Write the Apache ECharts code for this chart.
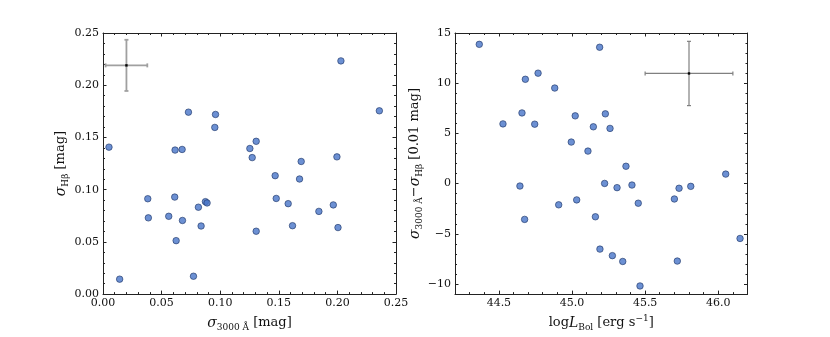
<!DOCTYPE html>
<html>
<head>
<meta charset="utf-8">
<script src="https://cdn.jsdelivr.net/npm/echarts@6/dist/echarts.min.js"></script>
<style>
  html, body { margin: 0; padding: 0; background: #fff; }
  #chart { width: 830px; height: 337px; }
</style>
</head>
<body>
<div id="chart"></div>
<script>
// left panel: sigma_3000 vs sigma_Hbeta (mag)
const sig3000 = [0.0051, 0.0142, 0.0382, 0.0387, 0.0561, 0.0612, 0.0615, 0.0624, 0.0675, 0.0678,
  0.0729, 0.0772, 0.0814, 0.0837, 0.0874, 0.0888, 0.0954, 0.0960, 0.1253, 0.1273,
  0.1307, 0.1307, 0.1469, 0.1478, 0.1580, 0.1617, 0.1677, 0.1691, 0.1842, 0.1965,
  0.1996, 0.2005, 0.2030, 0.2358];
const sigHb = [0.1407, 0.0143, 0.0913, 0.0730, 0.0745, 0.0929, 0.1379, 0.0512, 0.1385, 0.0705,
  0.1742, 0.0171, 0.0832, 0.0652, 0.0885, 0.0873, 0.1596, 0.1720, 0.1394, 0.1307,
  0.1463, 0.0602, 0.1134, 0.0916, 0.0866, 0.0655, 0.1102, 0.1270, 0.0792, 0.0854,
  0.1314, 0.0637, 0.2233, 0.1755];

// right panel: log L_Bol vs sigma difference (0.01 mag)
const logLbol = [44.366, 44.528, 44.644, 44.658, 44.676, 44.681, 44.745, 44.768, 44.882, 44.909,
  44.995, 45.022, 45.032, 45.109, 45.146, 45.160, 45.189, 45.191, 45.223, 45.228,
  45.260, 45.276, 45.308, 45.347, 45.369, 45.410, 45.453, 45.465, 45.700, 45.720,
  45.732, 45.812, 46.051, 46.149];
const sigDiff = [13.87, 5.95, -0.24, 7.04, -3.56, 10.39, 5.92, 11.0, 9.52, -2.11,
  4.14, 6.75, -1.62, 3.24, 5.66, -3.30, 13.58, -6.52, 0.02, 6.95,
  5.50, -7.17, -0.40, -7.75, 1.73, -0.14, -1.95, -10.19, -1.53, -7.71,
  -0.46, -0.27, 0.95, -5.46];

// typical error: [x, y, xerr, yerr]
const errLeft = [0.020, 0.219, 0.0178, 0.0245];
const errRight = [45.80, 10.97, 0.30, 3.2];

// tick labels
const leftTicks = [0, 0.05, 0.1, 0.15, 0.2, 0.25];
const rightXTicks = [44.5, 45.0, 45.5, 46.0];
const rightYTicks = [-10, -5, 0, 5, 10, 15];

const FONT = 'DejaVu Serif';
const INK = '#222';

const chart = echarts.init(document.getElementById('chart'), null, { renderer: 'canvas' });

const nameStyle = {
  fontFamily: FONT,
  fontSize: 13,
  color: '#111',
  lineHeight: 18,
  rich: {
    i: { fontFamily: FONT, fontStyle: 'italic', fontSize: 14, color: '#111', lineHeight: 18 },
    sub: { fontFamily: FONT, fontSize: 9, color: '#111', verticalAlign: 'bottom', lineHeight: 18 },
    sup: { fontFamily: FONT, fontSize: 9, color: '#111', verticalAlign: 'top', lineHeight: 14 }
  }
};

const fmtMinus = v => (v < 0 ? '\u2212' + Math.abs(v) : String(v));

// axis with regular ticks + minor ticks (left panel)
function plainAxis(pos, grid, min, max, step, labels, extra) {
  return Object.assign({
    type: 'value', gridIndex: grid, position: pos, min: min, max: max, interval: step,
    axisLine: { show: true, onZero: false, lineStyle: { color: INK, width: 1 } },
    axisTick: { show: true, inside: true, length: 3.5, lineStyle: { color: INK } },
    minorTick: { show: true, splitNumber: 5, length: 2, lineStyle: { color: INK } },
    splitLine: { show: false },
    minorSplitLine: { show: false },
    axisLabel: {
      show: labels, margin: 4, fontFamily: FONT, fontSize: 11, color: '#111',
      formatter: v => v.toFixed(2)
    }
  }, extra || {});
}

// axis whose min is not a multiple of the label step: major ticks via customValues
function majorAxis(pos, grid, min, max, step, ticks, labels, fmt, extra) {
  return Object.assign({
    type: 'value', gridIndex: grid, position: pos, min: min, max: max, interval: step,
    axisLine: { show: true, onZero: false, lineStyle: { color: INK, width: 1 } },
    axisTick: { show: true, inside: true, length: 3.5, customValues: ticks, lineStyle: { color: INK } },
    splitLine: { show: false },
    axisLabel: {
      show: labels, margin: 4, fontFamily: FONT, fontSize: 11, color: '#111',
      customValues: ticks, formatter: fmt
    }
  }, extra || {});
}
function minorAxis(pos, grid, min, max, step) {
  return {
    type: 'value', gridIndex: grid, position: pos, min: min, max: max, interval: step,
    axisLine: { show: false, onZero: false },
    axisTick: { show: true, inside: true, length: 2, lineStyle: { color: INK } },
    splitLine: { show: false },
    axisLabel: { show: false }
  };
}

function errorBarRenderer(color, width, cap) {
  return function (params, api) {
    const x = api.value(0), y = api.value(1), dx = api.value(2), dy = api.value(3);
    const c = api.coord([x, y]);
    const l = api.coord([x - dx, y]), r = api.coord([x + dx, y]);
    const t = api.coord([x, y + dy]), b = api.coord([x, y - dy]);
    const st = { stroke: color, lineWidth: width };
    const seg = (x1, y1, x2, y2) => ({ type: 'line', shape: { x1, y1, x2, y2 }, style: st });
    return {
      type: 'group',
      children: [
        seg(l[0], l[1], r[0], r[1]),
        seg(t[0], t[1], b[0], b[1]),
        seg(l[0], l[1] - cap, l[0], l[1] + cap),
        seg(r[0], r[1] - cap, r[0], r[1] + cap),
        seg(t[0] - cap, t[1], t[0] + cap, t[1]),
        seg(b[0] - cap, b[1], b[0] + cap, b[1]),
        { type: 'rect', shape: { x: c[0] - 1.2, y: c[1] - 1.2, width: 2.4, height: 2.4 }, style: { fill: '#000' } }
      ]
    };
  };
}

const pointStyle = { color: '#4774c8', borderColor: '#1e3566', borderWidth: 0.8 };

const option = {
  backgroundColor: '#fff',
  animation: false,
  grid: [
    { left: 103, top: 33, width: 293, height: 269 },
    { left: 455, top: 33, width: 292.5, height: 269 }
  ],
  xAxis: [
    plainAxis('bottom', 0, 0, 0.25, 0.05, true, {
      name: '{i|σ}{sub|3000 Å} [mag]', nameLocation: 'middle', nameGap: 17, nameTextStyle: nameStyle
    }),
    plainAxis('top', 0, 0, 0.25, 0.05, false),
    majorAxis('bottom', 1, 44.2, 46.2, 0.1, rightXTicks, true, v => v.toFixed(1), {
      name: 'log{i|L}{sub|Bol} [erg s{sup|\u22121}]', nameLocation: 'middle', nameGap: 17, nameTextStyle: nameStyle
    }),
    minorAxis('bottom', 1, 44.2, 46.2, 0.1),
    majorAxis('top', 1, 44.2, 46.2, 0.1, rightXTicks, false, v => v),
    minorAxis('top', 1, 44.2, 46.2, 0.1)
  ],
  yAxis: [
    plainAxis('left', 0, 0, 0.25, 0.05, true, {
      name: '{i|σ}{sub|Hβ} [mag]', nameLocation: 'middle', nameGap: 33, nameRotate: 90, nameTextStyle: nameStyle
    }),
    plainAxis('right', 0, 0, 0.25, 0.05, false),
    majorAxis('left', 1, -11, 15, 1, rightYTicks, true, fmtMinus, {
      name: '{i|σ}{sub|3000 Å}\u2212{i|σ}{sub|Hβ} [0.01 mag]', nameLocation: 'middle', nameGap: 21, nameRotate: 90, nameTextStyle: nameStyle
    }),
    minorAxis('left', 1, -11, 15, 1),
    majorAxis('right', 1, -11, 15, 1, rightYTicks, false, v => v),
    minorAxis('right', 1, -11, 15, 1)
  ],
  series: [
    {
      type: 'custom', xAxisIndex: 0, yAxisIndex: 0, z: 3,
      renderItem: errorBarRenderer('#a0a0a0', 1.8, 2),
      encode: { x: 0, y: 1 },
      data: [errLeft]
    },
    {
      type: 'scatter', xAxisIndex: 0, yAxisIndex: 0, z: 4,
      symbolSize: 6.5, itemStyle: pointStyle,
      data: sig3000.map((x, i) => [x, sigHb[i]])
    },
    {
      type: 'custom', xAxisIndex: 2, yAxisIndex: 2, z: 3,
      renderItem: errorBarRenderer('#808080', 1.2, 2),
      encode: { x: 0, y: 1 },
      data: [errRight]
    },
    {
      type: 'scatter', xAxisIndex: 2, yAxisIndex: 2, z: 4,
      symbolSize: 6.5, itemStyle: pointStyle,
      data: logLbol.map((x, i) => [x, sigDiff[i]])
    }
  ]
};

chart.setOption(option);
</script>
</body>
</html>
